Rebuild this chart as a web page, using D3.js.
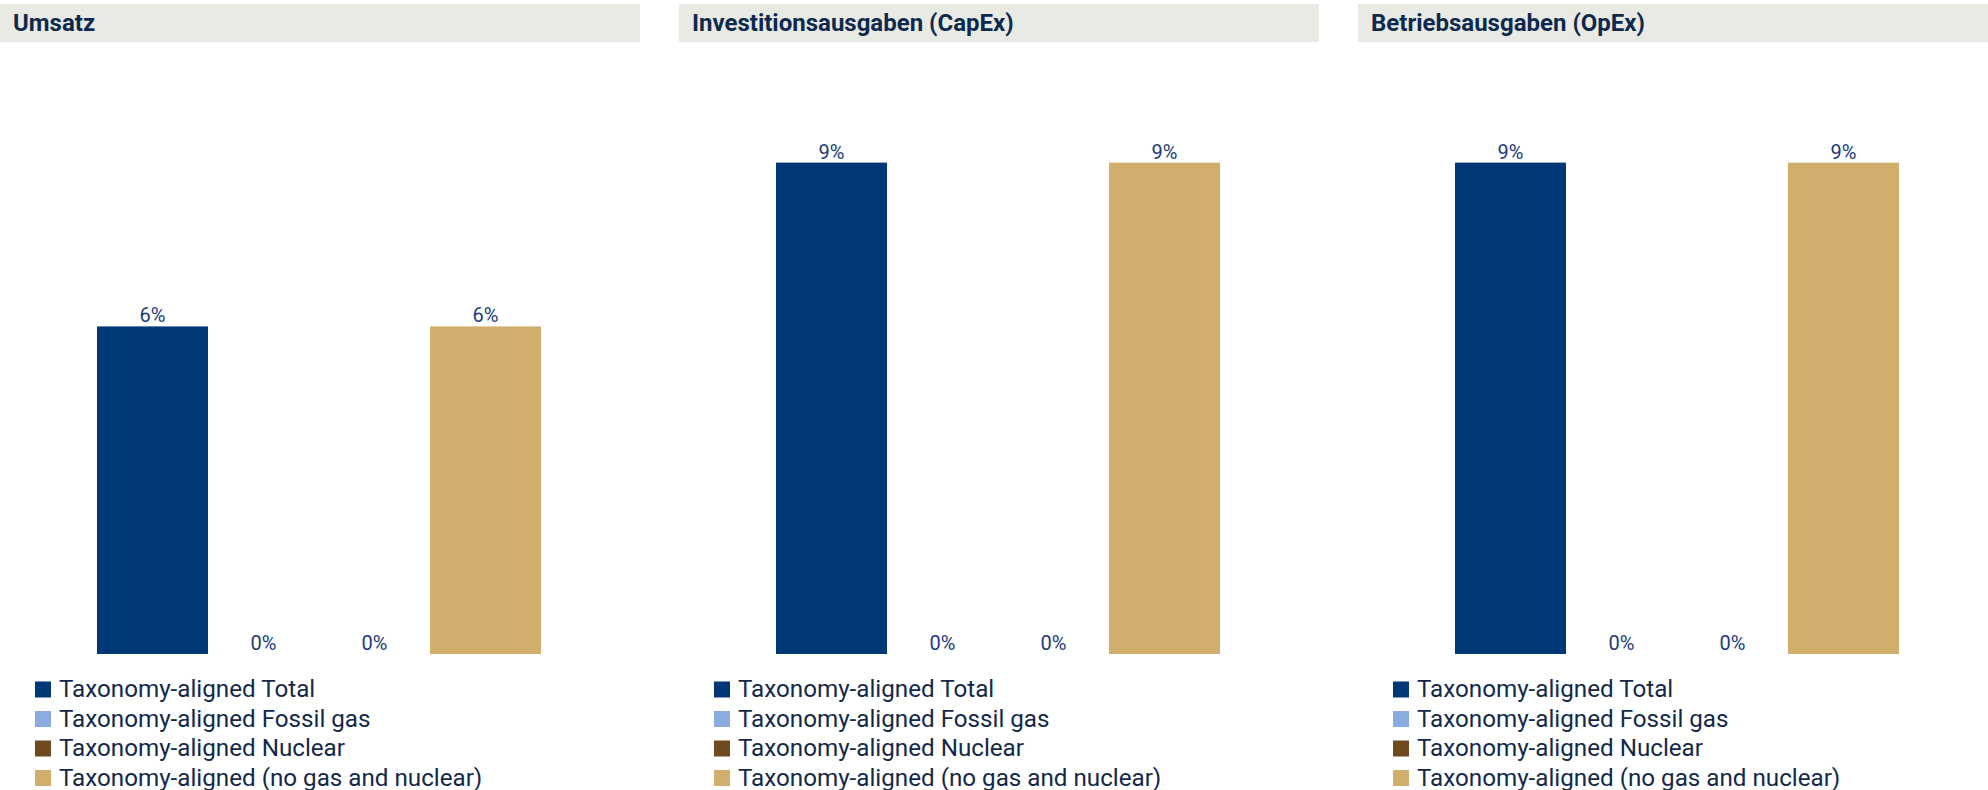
<!DOCTYPE html>
<html>
<head>
<meta charset="utf-8">
<script src="https://cdn.jsdelivr.net/npm/d3@7"></script>
<style>
  html, body { margin: 0; padding: 0; background: #ffffff; }
  svg { display: block; }
</style>
</head>
<body>
<svg id="chart" width="1988" height="790"></svg>
<script>
// ---- data ----
const panels = ["Umsatz", "Investitionsausgaben (CapEx)", "Betriebsausgaben (OpEx)"];
const categories = [
  "Taxonomy-aligned Total",
  "Taxonomy-aligned Fossil gas",
  "Taxonomy-aligned Nuclear",
  "Taxonomy-aligned (no gas and nuclear)"
];
const umsatzValues = [6, 0, 0, 6];
const capexValues = [9, 0, 0, 9];
const opexValues = [9, 0, 0, 9];
const panelValues = [umsatzValues, capexValues, opexValues];
const colors = ["#003776", "#8AABDF", "#6F4A1E", "#D1AE6B"];

// ---- layout ----
const svg = d3.select("#chart");
const W = 1988, H = 790;
const panelStep = 679, panelW = 640;

const x = d3.scaleBand().domain(categories).range([97, 541]).padding(0);
const y = d3.scaleLinear().domain([0, 10]).range([654, 108]);

panels.forEach((name, i) => {
  const g = svg.append("g").attr("transform", `translate(${i * panelStep},0)`);
  const bw = Math.min(panelW, W - i * panelStep);

  g.append("rect")
    .attr("x", 0).attr("y", 4)
    .attr("width", bw).attr("height", 38)
    .attr("fill", "#EAEAE4");
  g.append("text")
    .attr("x", 13).attr("y", 31)
    .attr("font-family", "Roboto, sans-serif")
    .attr("font-weight", 700)
    .attr("font-size", 24)
    .attr("fill", "#0D2A4E")
    .text(name);

  const vals = panelValues[i];
  const data = categories.map((c, k) => ({ c, v: vals[k], col: colors[k] }));

  g.selectAll("rect.bar").data(data).join("rect")
    .attr("class", "bar")
    .attr("x", d => x(d.c))
    .attr("width", x.bandwidth())
    .attr("y", d => y(d.v))
    .attr("height", d => y(0) - y(d.v))
    .attr("fill", d => d.col);

  g.selectAll("text.lbl").data(data).join("text")
    .attr("class", "lbl")
    .attr("x", d => x(d.c) + x.bandwidth() / 2)
    .attr("y", d => y(d.v) - 4)
    .attr("text-anchor", "middle")
    .attr("font-family", "Roboto, sans-serif")
    .attr("font-weight", 400)
    .attr("font-size", 20)
    .attr("fill", "#1A3C78")
    .text(d => d3.format(".0f")(d.v) + "%");

  const leg = g.append("g");
  const rows = leg.selectAll("g").data(categories).join("g")
    .attr("transform", (d, k) => `translate(35,${681.5 + k * 29.5})`);
  rows.append("rect")
    .attr("width", 16).attr("height", 16)
    .attr("fill", (d, k) => colors[k]);
  rows.append("text")
    .attr("x", 24).attr("y", 15.5)
    .attr("font-family", "Roboto, sans-serif")
    .attr("font-weight", 400)
    .attr("font-size", 24.2)
    .attr("fill", "#14294A")
    .text(d => d);
});
</script>
</body>
</html>
